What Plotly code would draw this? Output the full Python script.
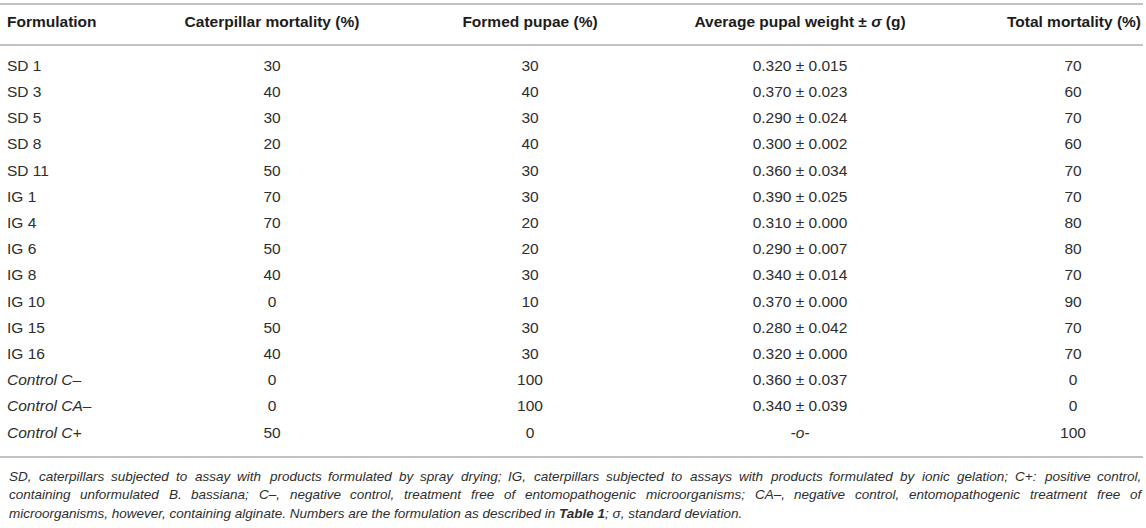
import plotly.graph_objects as go

# table content
formulations = ["SD 1", "SD 3", "SD 5", "SD 8", "SD 11", "IG 1", "IG 4", "IG 6", "IG 8",
                "IG 10", "IG 15", "IG 16",
                "<i>Control C–</i>", "<i>Control CA–</i>", "<i>Control C+</i>"]
caterpillar_mortality = [30, 40, 30, 20, 50, 70, 70, 50, 40, 0, 50, 40, 0, 0, 50]
formed_pupae = [30, 40, 30, 40, 30, 30, 20, 20, 30, 10, 30, 30, 100, 100, 0]
pupal_weight = ["0.320 ± 0.015", "0.370 ± 0.023", "0.290 ± 0.024", "0.300 ± 0.002",
                "0.360 ± 0.034", "0.390 ± 0.025", "0.310 ± 0.000", "0.290 ± 0.007",
                "0.340 ± 0.014", "0.370 ± 0.000", "0.280 ± 0.042", "0.320 ± 0.000",
                "0.360 ± 0.037", "0.340 ± 0.039", "<i>-o-</i>"]
total_mortality = [70, 60, 70, 60, 70, 70, 80, 80, 70, 90, 70, 70, 0, 0, 100]
headers = ["Formulation", "Caterpillar mortality (%)", "Formed pupae (%)",
           "Average pupal weight ± <i>σ</i> (g)", "Total mortality (%)"]

footnote = [
    "SD, caterpillars subjected to assay with products formulated by spray drying; IG, caterpillars subjected to assays with products formulated by ionic gelation; C+: positive control,",
    "containing unformulated B. bassiana; C–, negative control, treatment free of entomopathogenic microorganisms; CA–, negative control, entomopathogenic treatment free of",
    "microorganisms, however, containing alginate. Numbers are the formulation as described in <b>Table 1</b>; σ, standard deviation.",
]

FONT = "Liberation Sans, Arial, sans-serif"
TXT = "#2e2e2e"
RULE = "#c2c2c2"
FS = 15.5        # table text size
FN = 13.5        # footnote size
col_x = [7, 272, 530, 800, 1073]   # column anchors (x axis units = px)
rows = list(range(len(formulations)))
header_row = -1.679

# Arial / Liberation Sans advance widths (1/1000 em), used to justify the footnote
W = {' ': 278, ',': 278, '.': 278, ':': 278, ';': 278, '+': 584, '–': 556, '-': 333,
     '(': 333, ')': 333, '%': 889, 'σ': 571}
W.update(dict(zip("abcdefghijklmnopqrstuvwxyz",
    [556, 556, 500, 556, 556, 278, 556, 556, 222, 222, 500, 222, 833, 556, 556, 556,
     556, 333, 500, 278, 556, 500, 722, 500, 500, 500])))
W.update(dict(zip("ABCDEFGHIJKLMNOPQRSTUVWXYZ",
    [667, 667, 722, 722, 667, 611, 778, 722, 278, 500, 667, 556, 833, 722, 778, 667,
     778, 722, 667, 611, 722, 667, 944, 667, 667, 611])))
W.update({d: 556 for d in "0123456789"})


def text_width(s, size):
    return sum(W.get(c, 556) for c in s) * size / 1000.0


fig = go.Figure()

columns = [formulations, caterpillar_mortality, formed_pupae, pupal_weight, total_mortality]
for i, vals in enumerate(columns):
    fig.add_trace(go.Scatter(
        x=[col_x[i]] * len(vals), y=rows,
        text=[str(v) for v in vals],
        mode="text",
        textposition="middle right" if i == 0 else "middle center",
        textfont=dict(family=FONT, size=FS, color=TXT),
        hoverinfo="skip", showlegend=False))

# header row; last header is right aligned to the table edge
fig.add_trace(go.Scatter(
    x=col_x[:4] + [1141], y=[header_row] * len(headers),
    text=["<b>%s</b>" % h for h in headers],
    mode="text",
    textposition=["middle right"] + ["middle center"] * 3 + ["middle left"],
    textfont=dict(family=FONT, size=FS, color="#1c1c1c"),
    hoverinfo="skip", showlegend=False))

# horizontal rules
for yy in [-2.405, -0.840, 14.885]:
    fig.add_shape(type="line", xref="x", yref="y", x0=0, x1=1143, y0=yy, y1=yy,
                  line=dict(color=RULE, width=2))

# footnote: first two lines justified word by word, last line left aligned
fn_y = [15.611, 16.317, 17.023]
left, right = 7, 1139
for k, line in enumerate(footnote):
    if k < 2:
        words = line.split(" ")
        widths = [text_width(w, FN) for w in words]
        gap = (right - left - sum(widths)) / (len(words) - 1)
        x = left
        for w, wd in zip(words, widths):
            fig.add_annotation(x=x, y=fn_y[k], xref="x", yref="y",
                               text="<i>%s</i>" % w, showarrow=False,
                               xanchor="left", yanchor="middle",
                               font=dict(family=FONT, size=FN, color=TXT))
            x += wd + gap
    else:
        fig.add_annotation(x=left, y=fn_y[k], xref="x", yref="y",
                           text="<i>%s</i>" % line, showarrow=False,
                           xanchor="left", yanchor="middle",
                           font=dict(family=FONT, size=FN, color=TXT))

fig.update_layout(
    width=1146, height=528,
    margin=dict(l=0, r=0, t=0, b=0),
    paper_bgcolor="white", plot_bgcolor="white",
    xaxis=dict(range=[0, 1146], visible=False, fixedrange=True),
    yaxis=dict(range=[17.595, -2.557], visible=False, fixedrange=True),
    hovermode=False,
)

# drop the default page margin so the figure sits at the window's corner
fig.write_html("out.html", config={"displayModeBar": False},
               post_script="document.body.style.margin='0px';")
